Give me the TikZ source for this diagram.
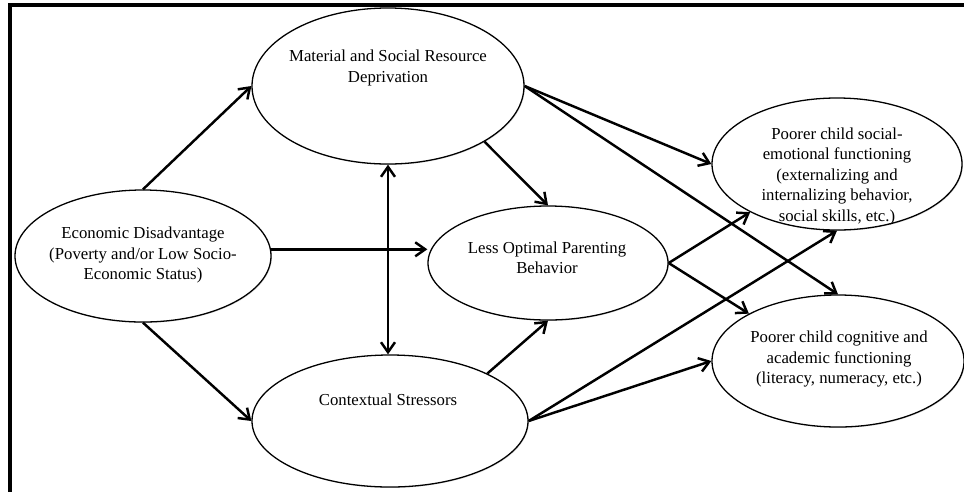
\documentclass[tikz,border=0pt]{standalone}
\usepackage{fontspec}
\setmainfont{Liberation Serif}
\usepackage{tikz}
\usetikzlibrary{shapes.geometric, arrows.meta, calc, shadows}
\tikzset{
    oval_node/.style={
        ellipse, draw=black, line width=1.1pt, fill=white, inner sep=0pt,
        drop shadow={opacity=0.25, shadow xshift=0.8pt, shadow yshift=-0.8pt}
    },
    txt_node/.style={
        draw=none, align=center, inner sep=0pt,
        font=\fontsize{14.3}{17.5}\selectfont
    },
    path_arrow/.style={
        -{Straight Barb[length=3mm, width=4.2mm]}, draw=black, line width=2.1pt
    },
    both_arrow/.style={
        {Straight Barb[length=3mm, width=4.2mm]}-{Straight Barb[length=3mm, width=4.2mm]},
        draw=black, line width=2.1pt
    },
    frame_line/.style={draw=black, line width=3.4pt}
}

\begin{document}
\begin{tikzpicture}[x=0.03cm, y=-0.03cm]
    \useasboundingbox (0,0) rectangle (964,492);

    % Outer frame (top and left edges only)
    \draw[frame_line] (964,5) -| (10,492);

    % Left: the source of disadvantage
    \node[oval_node, minimum width=7.68cm, minimum height=3.96cm] (econ) at (143,256) {};
    \node[txt_node] (econ_txt) at (143,255) {Economic Disadvantage\\(Poverty and/or Low Socio-\\Economic Status)};

    % Middle column: mediating factors
    \node[oval_node, minimum width=8.16cm, minimum height=4.68cm] (mat) at (388,86) {};
    \node[txt_node] (mat_txt) at (388,68) {Material and Social Resource\\Deprivation};

    \node[oval_node, minimum width=7.2cm, minimum height=3.42cm] (lop) at (548,263) {};
    \node[txt_node] (lop_txt) at (547,258) {Less Optimal Parenting\\Behavior};

    \node[oval_node, minimum width=8.28cm, minimum height=3.96cm] (ctx) at (390,421) {};
    \node[txt_node] (ctx_txt) at (388,400) {Contextual Stressors};

    % Right column: child outcomes
    \node[oval_node, minimum width=7.5cm, minimum height=3.96cm] (se) at (837,164) {};
    \node[txt_node] (se_txt) at (837,176) {Poorer child social-\\emotional functioning\\(externalizing and\\internalizing behavior,\\social skills, etc.)};

    \node[oval_node, minimum width=7.56cm, minimum height=3.96cm] (cog) at (838,361) {};
    \node[txt_node] (cog_txt) at (839,359) {Poorer child cognitive and\\academic functioning\\(literacy, numeracy, etc.)};

    % Economic disadvantage -> mediators
    \draw[path_arrow] (econ.north) -- (mat.west);
    \draw[path_arrow] (econ.south) -- (ctx.west);
    \draw[path_arrow] (econ.3) -- (econ.3 -| lop.west);

    % Deprivation <-> stressors
    \draw[both_arrow] (mat.south) -- (mat.south |- ctx.north);

    % Mediators -> parenting
    \draw[path_arrow] (mat.-30) -- (lop.north);
    \draw[path_arrow] (ctx.26) -- (lop.south);

    % Mediators -> child outcomes
    \draw[path_arrow] (mat.east) -- (se.west);
    \draw[path_arrow] (mat.east) -- (cog.north);
    \draw[path_arrow] (lop.east) -- (se.209);
    \draw[path_arrow] (lop.east) -- (cog.152);
    \draw[path_arrow] (ctx.east) -- (se.south);
    \draw[path_arrow] (ctx.east) -- (cog.west);
\end{tikzpicture}
\end{document}
